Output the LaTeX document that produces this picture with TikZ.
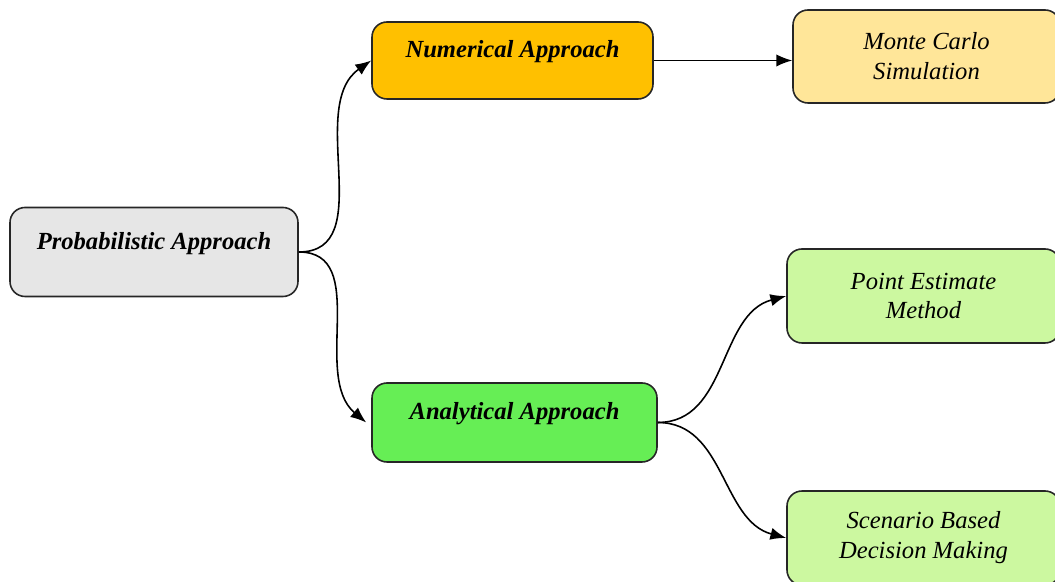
\documentclass[tikz,border=0pt]{standalone}
\usepackage{fontspec}
\setmainfont{Liberation Serif}
\usetikzlibrary{arrows.meta}

\definecolor{probgray}{HTML}{E6E6E6}
\definecolor{numorange}{HTML}{FFC000}
\definecolor{mcyellow}{HTML}{FFE699}
\definecolor{anagreen}{HTML}{66EE55}
\definecolor{leafgreen}{HTML}{CCF8A0}

\begin{document}
\begin{tikzpicture}[font=\fontsize{14}{17}\selectfont\itshape, line width=0.9pt,
		box/.style={draw=black!85, rounded corners=0.3cm, align=center, inner sep=2pt},
		onebox/.style={text depth=0.45cm, font=\fontsize{14}{17}\selectfont\bfseries\itshape},
		link/.style={-{Latex[length=9pt, width=7pt]}, black}]
		\useasboundingbox (0,0) rectangle (21.1, 11.64);
		\node[box, onebox, fill=probgray, minimum width=5.76cm, minimum height=1.78cm] (prob) at (3.08, 6.60) {Probabilistic Approach};
		\node[box, onebox, fill=numorange, minimum width=5.62cm, minimum height=1.54cm] (num) at (10.25, 10.43) {Numerical Approach};
		\node[box, onebox, fill=anagreen, minimum width=5.70cm, minimum height=1.58cm] (ana) at (10.29, 3.19) {Analytical Approach};
		\node[box, fill=mcyellow, minimum width=5.34cm, minimum height=1.86cm] (mc) at (18.53, 10.51) {Monte Carlo\\Simulation};
		\node[box, fill=leafgreen, minimum width=5.46cm, minimum height=1.88cm] (pem) at (18.47, 5.72) {Point Estimate\\Method};
		\node[box, fill=leafgreen, minimum width=5.46cm, minimum height=1.88cm] (sbdm) at (18.47, 0.88) {Scenario Based\\Decision Making};
		\draw[link] (prob.east) to[out=0, in=215] (num.west);
		\draw[link] (prob.east) to[out=0, in=140] ([xshift=-0.1cm]ana.west);
		\draw[link] (num.east) -- (num.east -| mc.west);
		\draw[link] (ana.east) to[out=0, in=195] (pem.west);
		\draw[link] (ana.east) to[out=0, in=165] (sbdm.west);
	\end{tikzpicture}
\end{document}
